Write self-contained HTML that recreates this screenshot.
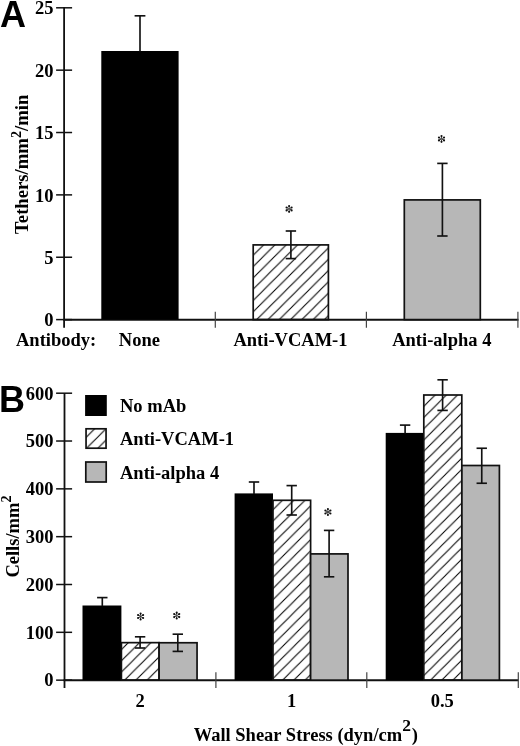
<!DOCTYPE html>
<html><head><meta charset="utf-8"><style>
html,body{margin:0;padding:0;background:#fff;}
svg{display:block;will-change:transform;}
.pl{font-family:"Liberation Sans",sans-serif;font-weight:bold;font-size:36px;}
.tl{font-family:"Liberation Serif",serif;font-weight:bold;font-size:18.5px;}
.ax{stroke:#111;stroke-width:1.8;}
.axx{stroke:#111;stroke-width:2;}
.tk{stroke:#111;stroke-width:1.5;}
.tkx{stroke:#444;stroke-width:1.2;}
.eb{stroke:#111;stroke-width:1.65;}
.bd{stroke:#111;stroke-width:1.7;}
</style></head><body>
<svg width="520" height="746" viewBox="0 0 520 746">
<defs><pattern id="hA" patternUnits="userSpaceOnUse" x="11.3" y="0" width="11.3" height="11.3"><path d="M-1,12.3 L12.3,-1 M-6.65,6.65 L6.65,-6.65 M4.65,17.950000000000003 L17.950000000000003,4.65" stroke="#000" stroke-width="1.05" fill="none"/></pattern><pattern id="hB0" patternUnits="userSpaceOnUse" x="6.0" y="0" width="11.25" height="11.25"><path d="M-1,12.25 L12.25,-1 M-6.625,6.625 L6.625,-6.625 M4.625,17.875 L17.875,4.625" stroke="#000" stroke-width="1.05" fill="none"/></pattern><pattern id="hB1" patternUnits="userSpaceOnUse" x="6.5" y="0" width="11.25" height="11.25"><path d="M-1,12.25 L12.25,-1 M-6.625,6.625 L6.625,-6.625 M4.625,17.875 L17.875,4.625" stroke="#000" stroke-width="1.05" fill="none"/></pattern><pattern id="hB2" patternUnits="userSpaceOnUse" x="11.08" y="0" width="11.22" height="11.22"><path d="M-1,12.22 L12.22,-1 M-6.61,6.61 L6.61,-6.61 M4.61,17.830000000000002 L17.830000000000002,4.61" stroke="#000" stroke-width="1.05" fill="none"/></pattern><pattern id="hL" patternUnits="userSpaceOnUse" x="3.7" y="0" width="11.3" height="11.3"><path d="M-1,12.3 L12.3,-1 M-6.65,6.65 L6.65,-6.65 M4.65,17.950000000000003 L17.950000000000003,4.65" stroke="#000" stroke-width="1.05" fill="none"/></pattern></defs>
<text x="0" y="27" class="pl">A</text>
<line x1="64.1" y1="7" x2="64.1" y2="327.7" class="ax"/>
<line x1="56.1" y1="319.60" x2="72.1" y2="319.60" class="tk"/>
<text x="53.5" y="326.2" class="tl" text-anchor="end">0</text>
<line x1="56.1" y1="257.24" x2="72.1" y2="257.24" class="tk"/>
<text x="53.5" y="263.8" class="tl" text-anchor="end">5</text>
<line x1="56.1" y1="194.88" x2="72.1" y2="194.88" class="tk"/>
<text x="53.5" y="201.5" class="tl" text-anchor="end">10</text>
<line x1="56.1" y1="132.52" x2="72.1" y2="132.52" class="tk"/>
<text x="53.5" y="139.1" class="tl" text-anchor="end">15</text>
<line x1="56.1" y1="70.16" x2="72.1" y2="70.16" class="tk"/>
<text x="53.5" y="76.8" class="tl" text-anchor="end">20</text>
<line x1="56.1" y1="7.80" x2="72.1" y2="7.80" class="tk"/>
<text x="53.5" y="14.4" class="tl" text-anchor="end">25</text>
<line x1="63.199999999999996" y1="319.8" x2="518.5" y2="319.8" class="axx"/>
<line x1="215.3" y1="311.8" x2="215.3" y2="327.8" class="tkx"/>
<line x1="366.4" y1="311.8" x2="366.4" y2="327.8" class="tkx"/>
<line x1="517.9" y1="311.8" x2="517.9" y2="327.8" class="tkx"/>
<text transform="translate(28.4,164.3) rotate(-90)" class="tl" style="font-size:18.7px" text-anchor="middle">Tethers/mm<tspan dy="-7.5" font-size="14">2</tspan><tspan dy="7.5">/min</tspan></text>
<rect x="101.3" y="51.0" width="77.3" height="268.6" fill="#000"/>
<rect x="253.2" y="244.9" width="75.2" height="74.7" fill="url(#hA)" class="bd"/>
<rect x="404.3" y="199.9" width="76.0" height="119.7" fill="#b7b7b7" class="bd"/>
<line x1="140.0" y1="15.8" x2="140.0" y2="51.5" class="eb"/><line x1="134.60" y1="15.8" x2="145.40" y2="15.8" class="eb"/>
<line x1="290.9" y1="231.0" x2="290.9" y2="258.6" class="eb"/><line x1="285.70" y1="258.6" x2="296.10" y2="258.6" class="eb"/><line x1="285.70" y1="231.0" x2="296.10" y2="231.0" class="eb"/>
<line x1="442.4" y1="163.4" x2="442.4" y2="236.0" class="eb"/><line x1="437.20" y1="236.0" x2="447.60" y2="236.0" class="eb"/><line x1="437.20" y1="163.4" x2="447.60" y2="163.4" class="eb"/>
<g fill="#111"><path d="M289.25,208.90 L289.70,205.95 L288.50,205.95 L288.95,208.90 Z"/><circle cx="289.10" cy="205.95" r="1.05"/><path d="M289.18,209.03 L291.95,207.94 L291.35,206.91 L289.03,208.77 Z"/><circle cx="291.65" cy="207.43" r="1.05"/><path d="M289.03,209.03 L291.35,210.89 L291.95,209.86 L289.18,208.77 Z"/><circle cx="291.65" cy="210.38" r="1.05"/><path d="M288.95,208.90 L288.50,211.85 L289.70,211.85 L289.25,208.90 Z"/><circle cx="289.10" cy="211.85" r="1.05"/><path d="M289.03,208.77 L286.25,209.86 L286.85,210.89 L289.18,209.03 Z"/><circle cx="286.55" cy="210.38" r="1.05"/><path d="M289.18,208.77 L286.85,206.91 L286.25,207.94 L289.03,209.03 Z"/><circle cx="286.55" cy="207.43" r="1.05"/></g>
<g fill="#111"><path d="M441.65,138.90 L442.10,135.95 L440.90,135.95 L441.35,138.90 Z"/><circle cx="441.50" cy="135.95" r="1.05"/><path d="M441.57,139.03 L444.35,137.94 L443.75,136.91 L441.43,138.77 Z"/><circle cx="444.05" cy="137.43" r="1.05"/><path d="M441.43,139.03 L443.75,140.89 L444.35,139.86 L441.57,138.77 Z"/><circle cx="444.05" cy="140.38" r="1.05"/><path d="M441.35,138.90 L440.90,141.85 L442.10,141.85 L441.65,138.90 Z"/><circle cx="441.50" cy="141.85" r="1.05"/><path d="M441.43,138.77 L438.65,139.86 L439.25,140.89 L441.57,139.03 Z"/><circle cx="438.95" cy="140.38" r="1.05"/><path d="M441.57,138.77 L439.25,136.91 L438.65,137.94 L441.43,139.03 Z"/><circle cx="438.95" cy="137.43" r="1.05"/></g>
<text x="16" y="345.8" class="tl">Antibody:</text>
<text x="139.4" y="345.8" class="tl" text-anchor="middle">None</text>
<text x="290.5" y="345.8" class="tl" text-anchor="middle">Anti-VCAM-1</text>
<text x="441.8" y="345.8" class="tl" text-anchor="middle">Anti-alpha 4</text>
<text x="-1" y="412" class="pl">B</text>
<line x1="64.5" y1="393.2" x2="64.5" y2="687.9" class="ax"/>
<line x1="56.1" y1="680.15" x2="72.1" y2="680.15" class="tk"/>
<text x="53.5" y="686.4" class="tl" text-anchor="end">0</text>
<line x1="56.1" y1="632.32" x2="72.1" y2="632.32" class="tk"/>
<text x="53.5" y="638.6" class="tl" text-anchor="end">100</text>
<line x1="56.1" y1="584.50" x2="72.1" y2="584.50" class="tk"/>
<text x="53.5" y="590.8" class="tl" text-anchor="end">200</text>
<line x1="56.1" y1="536.67" x2="72.1" y2="536.67" class="tk"/>
<text x="53.5" y="543.0" class="tl" text-anchor="end">300</text>
<line x1="56.1" y1="488.85" x2="72.1" y2="488.85" class="tk"/>
<text x="53.5" y="495.1" class="tl" text-anchor="end">400</text>
<line x1="56.1" y1="441.02" x2="72.1" y2="441.02" class="tk"/>
<text x="53.5" y="447.3" class="tl" text-anchor="end">500</text>
<line x1="56.1" y1="393.20" x2="72.1" y2="393.20" class="tk"/>
<text x="53.5" y="399.5" class="tl" text-anchor="end">600</text>
<line x1="63.6" y1="680.15" x2="518.5" y2="680.15" class="axx"/>
<line x1="215.9" y1="672.3" x2="215.9" y2="687.9" class="tkx"/>
<line x1="366.8" y1="672.3" x2="366.8" y2="687.9" class="tkx"/>
<line x1="518.3" y1="672.3" x2="518.3" y2="687.9" class="tkx"/>
<text transform="translate(19.2,536.6) rotate(-90)" class="tl" text-anchor="middle">Cells/mm<tspan dy="-8" font-size="14">2</tspan></text>
<rect x="82.5" y="605.5" width="38.90" height="74.65" fill="#000"/>
<rect x="234.6" y="493.4" width="38.40" height="186.75" fill="#000"/>
<rect x="385.7" y="432.9" width="38.10" height="247.25" fill="#000"/>
<rect x="121.4" y="642.65" width="37.70" height="37.50" fill="url(#hB0)" class="bd"/>
<rect x="273.0" y="500.3" width="37.60" height="179.85" fill="url(#hB1)" class="bd"/>
<rect x="423.8" y="395.0" width="38.00" height="285.15" fill="url(#hB2)" class="bd"/>
<rect x="159.1" y="642.75" width="37.95" height="37.40" fill="#b7b7b7" class="bd"/>
<rect x="310.6" y="553.9" width="37.40" height="126.25" fill="#b7b7b7" class="bd"/>
<rect x="461.9" y="465.5" width="37.50" height="214.65" fill="#b7b7b7" class="bd"/>
<line x1="102.3" y1="597.6" x2="102.3" y2="606" class="eb"/><line x1="97.10" y1="597.6" x2="107.50" y2="597.6" class="eb"/>
<line x1="140.1" y1="636.8" x2="140.1" y2="648.0" class="eb"/><line x1="134.90" y1="648.0" x2="145.30" y2="648.0" class="eb"/><line x1="134.90" y1="636.8" x2="145.30" y2="636.8" class="eb"/>
<line x1="177.8" y1="634.2" x2="177.8" y2="651.4" class="eb"/><line x1="172.60" y1="651.4" x2="183.00" y2="651.4" class="eb"/><line x1="172.60" y1="634.2" x2="183.00" y2="634.2" class="eb"/>
<line x1="254.0" y1="482.0" x2="254.0" y2="494" class="eb"/><line x1="248.80" y1="482.0" x2="259.20" y2="482.0" class="eb"/>
<line x1="291.7" y1="485.6" x2="291.7" y2="515.0" class="eb"/><line x1="286.50" y1="515.0" x2="296.90" y2="515.0" class="eb"/><line x1="286.50" y1="485.6" x2="296.90" y2="485.6" class="eb"/>
<line x1="329.1" y1="530.4" x2="329.1" y2="576.8" class="eb"/><line x1="323.90" y1="576.8" x2="334.30" y2="576.8" class="eb"/><line x1="323.90" y1="530.4" x2="334.30" y2="530.4" class="eb"/>
<line x1="405.1" y1="425.1" x2="405.1" y2="433.5" class="eb"/><line x1="399.90" y1="425.1" x2="410.30" y2="425.1" class="eb"/>
<line x1="442.6" y1="379.8" x2="442.6" y2="410.4" class="eb"/><line x1="437.40" y1="410.4" x2="447.80" y2="410.4" class="eb"/><line x1="437.40" y1="379.8" x2="447.80" y2="379.8" class="eb"/>
<line x1="481.75" y1="448.25" x2="481.75" y2="483.25" class="eb"/><line x1="476.55" y1="483.25" x2="486.95" y2="483.25" class="eb"/><line x1="476.55" y1="448.25" x2="486.95" y2="448.25" class="eb"/>
<g fill="#111"><path d="M140.75,616.50 L141.20,613.55 L140.00,613.55 L140.45,616.50 Z"/><circle cx="140.60" cy="613.55" r="1.05"/><path d="M140.67,616.63 L143.45,615.54 L142.85,614.51 L140.53,616.37 Z"/><circle cx="143.15" cy="615.02" r="1.05"/><path d="M140.53,616.63 L142.85,618.49 L143.45,617.46 L140.67,616.37 Z"/><circle cx="143.15" cy="617.98" r="1.05"/><path d="M140.45,616.50 L140.00,619.45 L141.20,619.45 L140.75,616.50 Z"/><circle cx="140.60" cy="619.45" r="1.05"/><path d="M140.53,616.37 L137.75,617.46 L138.35,618.49 L140.67,616.63 Z"/><circle cx="138.05" cy="617.98" r="1.05"/><path d="M140.67,616.37 L138.35,614.51 L137.75,615.54 L140.53,616.63 Z"/><circle cx="138.05" cy="615.02" r="1.05"/></g>
<g fill="#111"><path d="M176.85,615.60 L177.30,612.65 L176.10,612.65 L176.55,615.60 Z"/><circle cx="176.70" cy="612.65" r="1.05"/><path d="M176.77,615.73 L179.55,614.64 L178.95,613.61 L176.62,615.47 Z"/><circle cx="179.25" cy="614.12" r="1.05"/><path d="M176.62,615.73 L178.95,617.59 L179.55,616.56 L176.77,615.47 Z"/><circle cx="179.25" cy="617.08" r="1.05"/><path d="M176.55,615.60 L176.10,618.55 L177.30,618.55 L176.85,615.60 Z"/><circle cx="176.70" cy="618.55" r="1.05"/><path d="M176.62,615.47 L173.85,616.56 L174.45,617.59 L176.77,615.73 Z"/><circle cx="174.15" cy="617.08" r="1.05"/><path d="M176.77,615.47 L174.45,613.61 L173.85,614.64 L176.62,615.73 Z"/><circle cx="174.15" cy="614.12" r="1.05"/></g>
<g fill="#111"><path d="M328.05,512.00 L328.50,509.05 L327.30,509.05 L327.75,512.00 Z"/><circle cx="327.90" cy="509.05" r="1.05"/><path d="M327.97,512.13 L330.75,511.04 L330.15,510.01 L327.82,511.87 Z"/><circle cx="330.45" cy="510.52" r="1.05"/><path d="M327.82,512.13 L330.15,513.99 L330.75,512.96 L327.97,511.87 Z"/><circle cx="330.45" cy="513.48" r="1.05"/><path d="M327.75,512.00 L327.30,514.95 L328.50,514.95 L328.05,512.00 Z"/><circle cx="327.90" cy="514.95" r="1.05"/><path d="M327.82,511.87 L325.05,512.96 L325.65,513.99 L327.97,512.13 Z"/><circle cx="325.35" cy="513.48" r="1.05"/><path d="M327.97,511.87 L325.65,510.01 L325.05,511.04 L327.82,512.13 Z"/><circle cx="325.35" cy="510.52" r="1.05"/></g>
<text x="140.2" y="706.7" class="tl" text-anchor="middle">2</text>
<text x="291.5" y="706.7" class="tl" text-anchor="middle">1</text>
<text x="442.3" y="706.7" class="tl" text-anchor="middle">0.5</text>
<text x="193.7" y="741" class="tl">Wall Shear Stress (dyn/cm<tspan dy="-9.8" font-size="17.5">2</tspan><tspan dy="9.8" dx="0.9">)</tspan></text>
<rect x="85.1" y="395.0" width="21.7" height="21.0" fill="#000"/>
<rect x="86.05" y="428.8" width="20" height="19.4" fill="url(#hL)" class="bd"/>
<rect x="85.8" y="462.0" width="20.4" height="20.0" fill="#b7b7b7" class="bd"/>
<text x="120" y="411.7" class="tl">No mAb</text>
<text x="120" y="445.1" class="tl">Anti-VCAM-1</text>
<text x="120" y="478.5" class="tl">Anti-alpha 4</text>
</svg>
</body></html>
